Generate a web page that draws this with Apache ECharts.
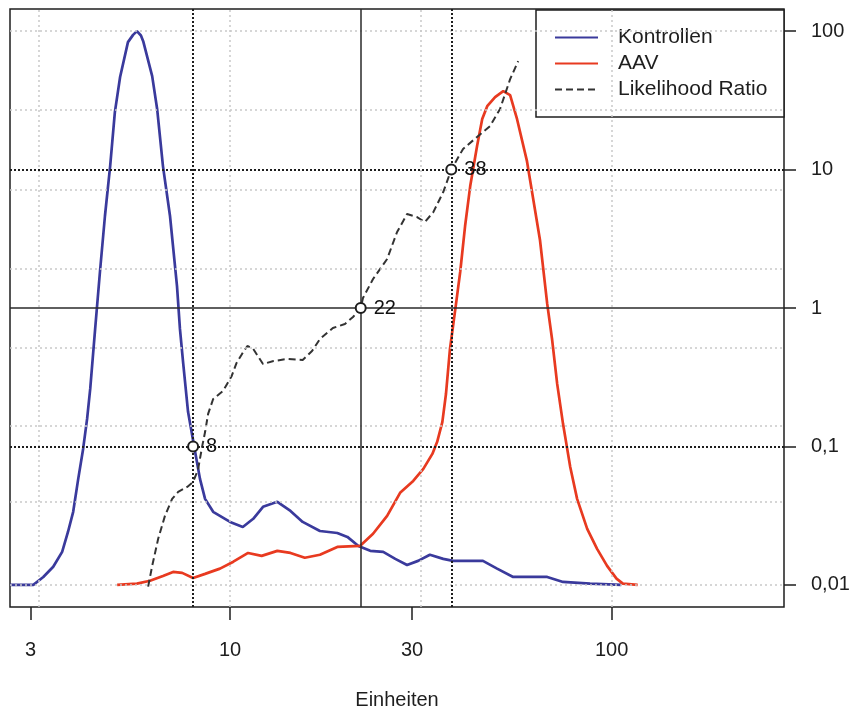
<!DOCTYPE html>
<html>
<head>
<meta charset="utf-8">
<script src="https://cdn.jsdelivr.net/npm/echarts@6/dist/echarts.min.js"></script>
<style>
  html, body { margin: 0; padding: 0; background: #ffffff; }
  #chart { width: 850px; height: 712px; }
</style>
</head>
<body>
<div id="chart"></div>
<script>
// Density of the control group over the measured units (x: Einheiten, y: density, log scale)
const kontrollen = [
  [2.65, 0.01], [3.05, 0.01], [3.24, 0.0114], [3.44, 0.0135], [3.63, 0.0173], [3.76, 0.0241],
  [3.88, 0.0337], [4.0, 0.0583], [4.12, 0.0959], [4.22, 0.158], [4.30, 0.26], [4.43, 0.706],
  [4.56, 1.82], [4.70, 4.62], [4.85, 10.6], [4.99, 26.0], [5.15, 46.6], [5.40, 83.3],
  [5.57, 94], [5.70, 100], [5.84, 93], [5.92, 84.6], [6.25, 47.3], [6.44, 27.4], [6.67, 10.6],
  [6.96, 4.62], [7.26, 1.44], [7.39, 0.706], [7.53, 0.408], [7.76, 0.178], [8.10, 0.0913],
  [8.34, 0.0583], [8.60, 0.0418], [9.03, 0.0337], [10.0, 0.0285], [10.8, 0.0262], [11.5, 0.0300],
  [12.2, 0.0366], [13.3, 0.0398], [14.4, 0.0342], [15.5, 0.0285], [17.2, 0.0245], [19.1, 0.0237],
  [20.3, 0.0222], [21.7, 0.0191], [23.3, 0.0176], [25.2, 0.0173], [27.1, 0.0154], [29.1, 0.0139],
  [31.1, 0.0149], [33.4, 0.0165], [36.2, 0.0154], [38.4, 0.0149], [46.0, 0.0149], [50.1, 0.0131],
  [55.2, 0.0114], [67.8, 0.0114], [74.6, 0.0105], [87.8, 0.0102], [106, 0.01]
];

// Density of the AAV group
const aav = [
  [5.06, 0.01], [5.70, 0.0102], [6.17, 0.0107], [6.67, 0.0116], [7.09, 0.0124], [7.49, 0.0122],
  [8.0, 0.0112], [8.6, 0.0120], [9.41, 0.0131], [10.2, 0.0147], [11.15, 0.0170], [12.1, 0.0162],
  [13.3, 0.0176], [14.4, 0.0170], [15.7, 0.0157], [17.2, 0.0165], [19.1, 0.0188], [21.9, 0.0191],
  [23.7, 0.0234], [25.8, 0.0315], [27.9, 0.0462], [30.2, 0.0563], [32.1, 0.0688], [33.9, 0.0883],
  [34.9, 0.108], [36.0, 0.150], [36.8, 0.239], [37.7, 0.506], [39.1, 1.07], [40.1, 1.82],
  [41.3, 3.91], [42.6, 7.60], [44.4, 14.8], [45.8, 23.2], [47.2, 28.7], [49.5, 33.4], [52.0, 36.9],
  [54.2, 34.5], [56.5, 23.2], [60.0, 11.5], [62.3, 6.12], [64.9, 3.10], [67.8, 1.07], [69.8, 0.597],
  [72.0, 0.283], [74.6, 0.145], [77.9, 0.0711], [81.2, 0.0418], [86.3, 0.0254], [91.6, 0.0182],
  [97.3, 0.0137], [103, 0.0111], [107, 0.0102], [117, 0.01]
];

// Likelihood ratio AAV / Kontrollen
const likelihoodRatio = [
  [6.10, 0.0097], [6.25, 0.0137], [6.48, 0.0215], [6.75, 0.0315], [7.05, 0.0418], [7.31, 0.0469],
  [7.72, 0.0510], [8.0, 0.0554], [8.24, 0.0677], [8.45, 0.1], [8.6, 0.127], [8.76, 0.172],
  [9.03, 0.220], [9.59, 0.252], [10.1, 0.323], [10.4, 0.401], [10.75, 0.466], [11.1, 0.532],
  [11.5, 0.506], [12.2, 0.394], [13.0, 0.414], [14.1, 0.428], [15.5, 0.421], [16.4, 0.489],
  [17.2, 0.597], [18.6, 0.717], [20.0, 0.767], [21.0, 0.861], [22.0, 1.0], [22.3, 1.18],
  [23.7, 1.62], [25.8, 2.26], [27.4, 3.54], [29.1, 4.77], [30.9, 4.54], [32.4, 4.18],
  [34.1, 4.93], [36.2, 6.88], [38.0, 10.0], [40.8, 14.1], [44.4, 17.2], [48.0, 20.6],
  [51.0, 27.4], [54.2, 45.0], [56.9, 60.7]
];

// Cut-off values (Einheiten) and the likelihood ratio reached there
const cutoffs = [8, 22, 38];
const cutoffRatios = [0.1, 1, 10];

// Axis tick values
const xTicks = [3, 10, 30, 100];
const yTicks = [0.01, 0.1, 1, 10, 100];

const seriesNames = ['Kontrollen', 'AAV', 'Likelihood Ratio'];

// ---- layout / style ----
const FONT = "'Liberation Sans', Arial, Helvetica, sans-serif";
const INK = '#1e1e1e';
const BLUE = '#3a3a9c';
const RED = '#e83a20';
const X_MIN = 2.65, X_MAX = 283;
const Y_MIN = Math.pow(10, -2.16), Y_MAX = Math.pow(10, 2.16);

// light background grid: half decades on x, seven equal steps over the four decades on y
const gridXs = [0.5, 1, 1.5, 2].map(e => Math.pow(10, e));
const gridYs = [0, 1, 2, 3, 4, 5, 6, 7].map(k => Math.pow(10, 2 - 4 * k / 7));

const gridLineStyle = { color: '#c9c9c9', width: 1.5, type: [2, 3] };
const dottedStyle = { color: INK, width: 2, type: [2, 2] };
const solidStyle = { color: '#2a2a2a', width: 1.5, type: 'solid' };

const chart = echarts.init(document.getElementById('chart'), null, { renderer: 'canvas' });

const option = {
  backgroundColor: '#ffffff',
  animation: false,
  textStyle: { fontFamily: FONT },
  grid: {
    left: 10, right: 66, top: 9, bottom: 105,
    show: true, borderColor: INK, borderWidth: 1.5,
    containLabel: false, outerBoundsMode: 'none'
  },
  xAxis: {
    type: 'log', logBase: 10, min: X_MIN, max: X_MAX,
    name: 'Einheiten', nameLocation: 'middle', nameGap: 83,
    nameTextStyle: { fontSize: 20, color: INK, fontFamily: FONT },
    axisLine: { show: false },
    splitLine: { show: false },
    minorTick: { show: false },
    axisTick: { show: true, length: 13, customValues: xTicks, lineStyle: { color: INK, width: 1.5 } },
    axisLabel: {
      customValues: xTicks, fontSize: 20, color: INK, margin: 33, fontFamily: FONT,
      formatter: v => String(v)
    }
  },
  yAxis: {
    type: 'log', logBase: 10, min: Y_MIN, max: Y_MAX, position: 'right',
    axisLine: { show: false },
    splitLine: { show: false },
    minorTick: { show: false },
    axisTick: { show: true, length: 12, customValues: yTicks, lineStyle: { color: INK, width: 1.5 } },
    axisLabel: {
      customValues: yTicks, fontSize: 20, color: INK, margin: 27, fontFamily: FONT,
      formatter: v => String(v).replace('.', ',')
    }
  },
  legend: {
    data: seriesNames,
    orient: 'vertical',
    right: 66, top: 10,
    align: 'left',
    backgroundColor: '#ffffff',
    borderColor: INK, borderWidth: 1.5,
    padding: [17, 11, 17, 18],
    itemWidth: 43, itemHeight: 14, itemGap: 5,
    // legend keys are plain line samples
    itemStyle: { color: 'rgba(0,0,0,0)', borderWidth: 0, opacity: 0 },
    textStyle: { fontSize: 21, color: INK, fontFamily: FONT, lineHeight: 20, width: 155, padding: [0, 0, 0, 15] }
  },
  series: [
    {
      name: 'background grid', type: 'line', data: [], silent: true, z: 1,
      markLine: {
        silent: true, symbol: ['none', 'none'], label: { show: false }, animation: false,
        lineStyle: gridLineStyle,
        data: gridXs.map(v => ({ xAxis: v })).concat(gridYs.map(v => ({ yAxis: v })))
      }
    },
    {
      name: 'cut-off lines', type: 'line', data: [], silent: true, z: 5,
      markLine: {
        silent: true, symbol: ['none', 'none'], label: { show: false }, animation: false,
        data: [
          { xAxis: cutoffs[0], lineStyle: dottedStyle },
          { xAxis: cutoffs[1], lineStyle: solidStyle },
          { xAxis: cutoffs[2], lineStyle: dottedStyle },
          { yAxis: cutoffRatios[0], lineStyle: dottedStyle },
          { yAxis: cutoffRatios[1], lineStyle: solidStyle },
          { yAxis: cutoffRatios[2], lineStyle: dottedStyle }
        ]
      }
    },
    {
      name: seriesNames[0], type: 'line', data: kontrollen, z: 3,
      symbol: 'none', showSymbol: false, smooth: false,
      itemStyle: { color: BLUE },
      lineStyle: { color: BLUE, width: 2.7 }
    },
    {
      name: seriesNames[1], type: 'line', data: aav, z: 3,
      symbol: 'none', showSymbol: false, smooth: false,
      itemStyle: { color: RED },
      lineStyle: { color: RED, width: 2.7 }
    },
    {
      name: seriesNames[2], type: 'line', data: likelihoodRatio, z: 4,
      symbol: 'none', showSymbol: false, smooth: false,
      itemStyle: { color: '#333333' },
      lineStyle: { color: '#333333', width: 2, type: [7, 4] }
    },
    {
      name: 'cut-off points', type: 'scatter', z: 6, silent: true,
      data: cutoffs.map((c, i) => [c, cutoffRatios[i]]),
      symbol: 'emptyCircle', symbolSize: 10,
      itemStyle: { color: INK, borderColor: INK, borderWidth: 1.5, opacity: 1 },
      label: {
        show: true, position: 'right', distance: 7, opacity: 1,
        fontSize: 20, color: '#111111', fontFamily: FONT,
        textBorderWidth: 0,
        formatter: p => String(p.value[0])
      }
    }
  ]
};

chart.setOption(option);
</script>
</body>
</html>
